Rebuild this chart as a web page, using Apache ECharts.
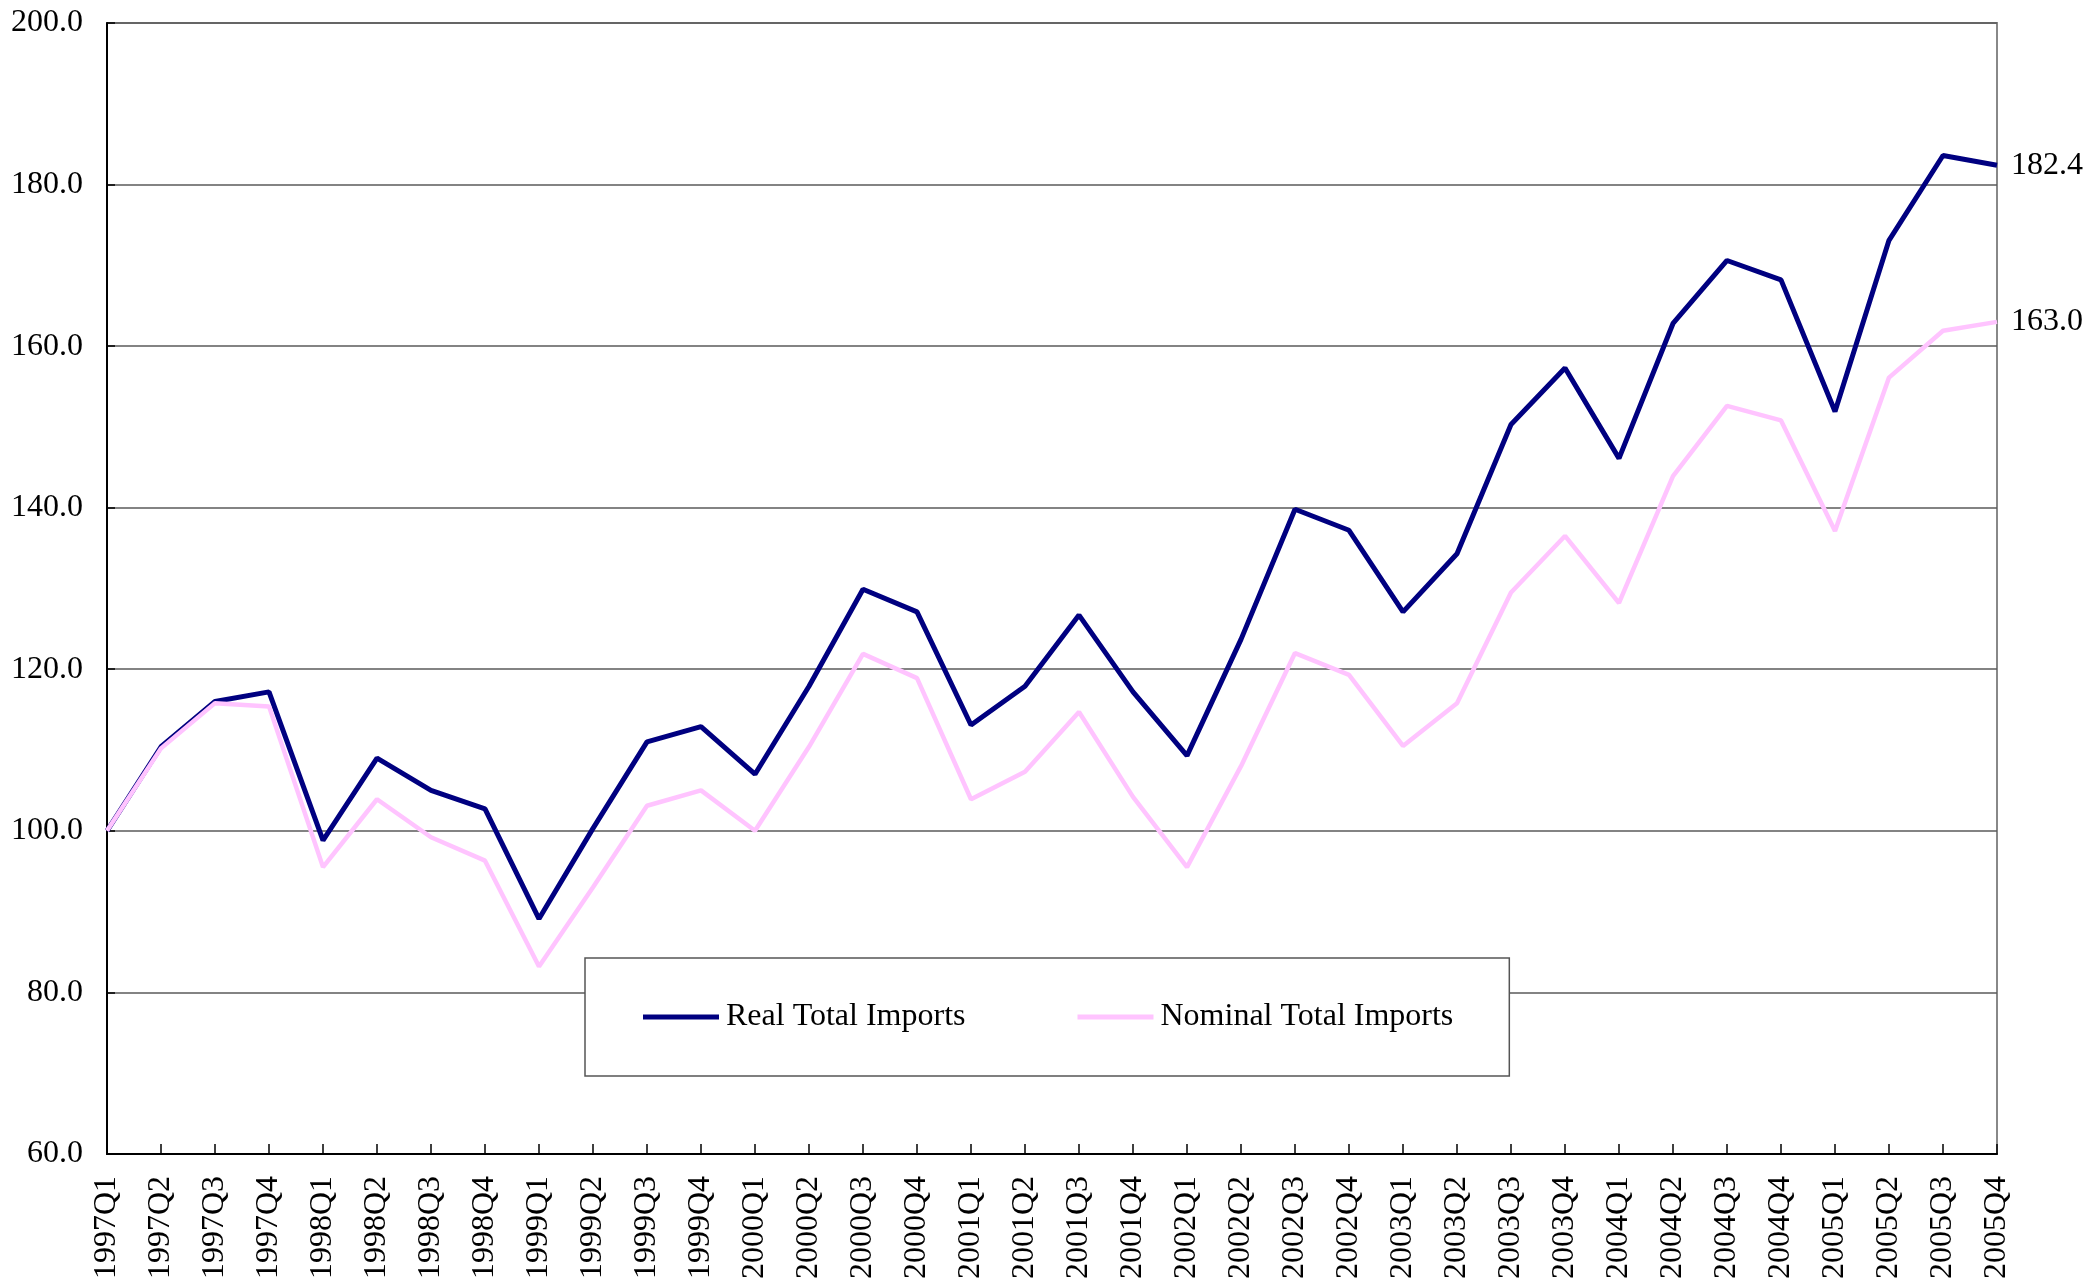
<!DOCTYPE html>
<html>
<head>
<meta charset="utf-8">
<title>Real vs Nominal Total Imports</title>
<script src="https://cdn.jsdelivr.net/npm/echarts@6/dist/echarts.min.js"></script>
<style>
  html, body { margin: 0; padding: 0; background: #fff; }
  #chart { width: 2087px; height: 1282px; }
</style>
</head>
<body>
<div id="chart"></div>
<script>
// Quarter labels
const quarters = [
  '1997Q1', '1997Q2', '1997Q3', '1997Q4',
  '1998Q1', '1998Q2', '1998Q3', '1998Q4',
  '1999Q1', '1999Q2', '1999Q3', '1999Q4',
  '2000Q1', '2000Q2', '2000Q3', '2000Q4',
  '2001Q1', '2001Q2', '2001Q3', '2001Q4',
  '2002Q1', '2002Q2', '2002Q3', '2002Q4',
  '2003Q1', '2003Q2', '2003Q3', '2003Q4',
  '2004Q1', '2004Q2', '2004Q3', '2004Q4',
  '2005Q1', '2005Q2', '2005Q3', '2005Q4'
]

// Index values (1997Q1 = 100)
const realImports = [
  100.0, 110.4, 116.0, 117.2,
  98.8, 109.0, 105.0, 102.7,
  89.1, 100.3, 111.0, 112.9,
  107.0, 117.9, 129.9, 127.1,
  113.1, 117.9, 126.7, 117.2,
  109.3, 123.7, 139.8, 137.2,
  127.1, 134.3, 150.3, 157.3,
  146.1, 162.8, 170.6, 168.2,
  151.9, 173.1, 183.6, 182.4
]

const nominalImports = [
  100.0, 110.2, 115.8, 115.4,
  95.5, 103.9, 99.2, 96.3,
  83.2, 93.0, 103.1, 105.0,
  100.0, 110.4, 121.9, 118.9,
  103.9, 107.3, 114.7, 104.2,
  95.5, 108.0, 122.0, 119.3,
  110.5, 115.8, 129.5, 136.5,
  128.2, 143.9, 152.6, 150.8,
  137.1, 156.1, 161.9, 163.0
]

const yTicks = { min: 60, max: 200, step: 20 }

const FONT = 'Liberation Serif, Times New Roman, serif'

const chart = echarts.init(document.getElementById('chart'))

chart.setOption({
  backgroundColor: '#fff',
  animation: false,
  textStyle: { fontFamily: FONT },
  grid: {
    left: 107,
    right: 90,
    top: 23,
    bottom: 125,
    show: true,
    borderColor: '#888',
    borderWidth: 2
  },
  legend: {
    data: ['Real Total Imports', 'Nominal Total Imports'],
    left: 585,
    top: 958,
    orient: 'horizontal',
    padding: [43, 56, 43, 58],
    itemGap: 112,
    itemWidth: 76,
    itemHeight: 5,
    icon: 'rect',
    borderColor: '#555',
    borderWidth: 1.5,
    backgroundColor: '#fff',
    textStyle: {
      fontFamily: FONT,
      fontSize: 32,
      color: '#000',
      padding: [0, 0, 0, 2]
    }
  },
  xAxis: {
    type: 'category',
    data: quarters,
    boundaryGap: false,
    axisLine: { lineStyle: { color: '#000', width: 2 } },
    axisTick: {
      show: true,
      inside: true,
      length: 10,
      lineStyle: { color: '#000', width: 1.5 }
    },
    axisLabel: {
      rotate: 90,
      margin: 22,
      interval: 0,
      fontFamily: FONT,
      fontSize: 32,
      color: '#000'
    },
    splitLine: { show: false }
  },
  yAxis: {
    type: 'value',
    min: yTicks.min,
    max: yTicks.max,
    interval: yTicks.step,
    axisLine: { show: true, lineStyle: { color: '#000', width: 2 } },
    axisTick: {
      show: true,
      inside: true,
      length: 8,
      lineStyle: { color: '#000', width: 1.5 }
    },
    axisLabel: {
      margin: 24,
      fontFamily: FONT,
      fontSize: 32,
      color: '#000',
      formatter: (v) => v.toFixed(1)
    },
    splitLine: { lineStyle: { color: '#5a5a5a', width: 1.5 } }
  },
  series: [
    {
      name: 'Real Total Imports',
      type: 'line',
      data: realImports,
      showSymbol: false,
      symbol: 'none',
      z: 3,
      itemStyle: { color: '#000080' },
      lineStyle: { color: '#000080', width: 5 },
      endLabel: {
        show: true,
        distance: 14,
        fontFamily: FONT,
        fontSize: 32,
        color: '#000',
        formatter: (p) => p.value.toFixed(1)
      }
    },
    {
      name: 'Nominal Total Imports',
      type: 'line',
      data: nominalImports,
      showSymbol: false,
      symbol: 'none',
      z: 4,
      itemStyle: { color: '#FFC4FF' },
      lineStyle: { color: '#FFC4FF', width: 4.5 },
      endLabel: {
        show: true,
        distance: 14,
        fontFamily: FONT,
        fontSize: 32,
        color: '#000',
        formatter: (p) => p.value.toFixed(1)
      }
    }
  ]
})

window.addEventListener('resize', () => chart.resize())
</script>
</body>
</html>
